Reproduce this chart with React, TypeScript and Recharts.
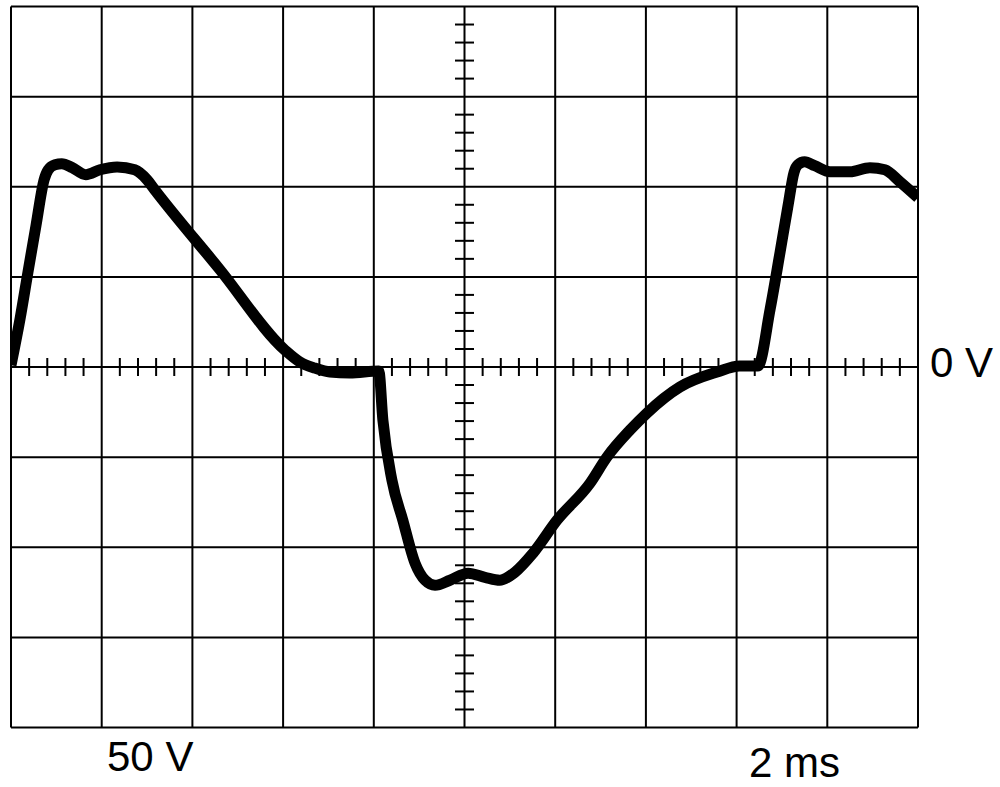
import React from "react";
import { LineChart, Line, XAxis, YAxis, ReferenceLine } from "recharts";

// Waveform samples: time in ms (2 ms / div), voltage in V (50 V / div)
const timeMs = [
  0, 0.2, 0.375, 0.55, 0.73, 0.82, 0.97, 1.12, 1.35, 1.65, 1.96, 2.34, 2.73, 3.0, 3.17, 4.61, 6.04,
  6.37, 6.7, 7.03, 7.47, 8.11, 8.2, 8.4, 8.64, 8.91, 9.13, 9.35, 9.68, 10.08, 10.45, 10.78, 11.11,
  11.51, 12.04, 12.77, 13.14, 13.65, 14.02, 14.75, 15.57, 16.07, 16.47, 16.74, 16.96, 17.13, 17.27,
  17.35, 17.5, 17.72, 18.06, 18.5, 18.94, 19.27, 19.6, 20.0,
];
const voltsV = [
  1, 26.8, 52.8, 78.3, 103.9, 109.4, 112.2, 112.8, 110.6, 106.7, 109.4, 111, 109.4, 103.9, 98.3, 53.9,
  9.4, 2.8, -0.6, -2.8, -3.3, -2.2, -29.4, -62.8, -85, -108.9, -118.3, -121.1, -118.3, -114.4, -116.7,
  -118.3, -113.9, -103.3, -85, -64.4, -50, -35, -25.6, -11.1, -2.8, 0.6, 0.6, 32.2, 63.9, 88.9, 108.3,
  112.2, 113.9, 111.7, 108.3, 108.3, 110.6, 109.4, 102.8, 93.9,
];

const xGrid = [0, 2, 4, 6, 8, 10, 12, 14, 16, 18, 20];
const yGrid = [-200, -150, -100, -50, 0, 50, 100, 150, 200];
const xMinorTicks = [
  0.4, 0.8, 1.2, 1.6, 2.4, 2.8, 3.2, 3.6, 4.4, 4.8, 5.2, 5.6, 6.4, 6.8, 7.2, 7.6, 8.4, 8.8, 9.2, 9.6,
  10.4, 10.8, 11.2, 11.6, 12.4, 12.8, 13.2, 13.6, 14.4, 14.8, 15.2, 15.6, 16.4, 16.8, 17.2, 17.6,
  18.4, 18.8, 19.2, 19.6,
];
const yMinorTicks = [
  -190, -180, -170, -160, -140, -130, -120, -110, -90, -80, -70, -60, -40, -30, -20, -10,
  10, 20, 30, 40, 60, 70, 80, 90, 110, 120, 130, 140, 160, 170, 180, 190,
];
const labels = { zero: "0 V", volts: "50 V", time: "2 ms" };

const data = timeMs.map((t, i) => ({ t, v: voltsV[i] }));

const W = 1000;
const H = 787;
const M = { top: 6.5, left: 11, right: 82, bottom: 59.5 };
const TICK_V = 5; // half length of minor tick on time axis, in volts
const TICK_T = 0.21; // half length of minor tick on voltage axis, in ms

export default function App() {
  return (
    <div style={{ position: "absolute", left: 0, top: 0, width: W, height: H, background: "#fff" }}>
      <LineChart width={W} height={H} data={data} margin={M}>
        <XAxis dataKey="t" type="number" domain={[0, 20]} hide allowDataOverflow />
        <YAxis type="number" domain={[-200, 200]} hide allowDataOverflow />
        {xGrid.map((x) => (
          <ReferenceLine key={"gx" + x} x={x} stroke="#000" strokeWidth={2} />
        ))}
        {yGrid.map((y) => (
          <ReferenceLine key={"gy" + y} y={y} stroke="#000" strokeWidth={2} />
        ))}
        {xMinorTicks.map((x) => (
          <ReferenceLine
            key={"tx" + x}
            segment={[
              { x, y: -TICK_V },
              { x, y: TICK_V },
            ]}
            stroke="#000"
            strokeWidth={2}
          />
        ))}
        {yMinorTicks.map((y) => (
          <ReferenceLine
            key={"ty" + y}
            segment={[
              { x: 10 - TICK_T, y },
              { x: 10 + TICK_T, y },
            ]}
            stroke="#000"
            strokeWidth={2}
          />
        ))}
        <Line
          dataKey="v"
          type="monotone"
          stroke="#000"
          strokeWidth={11}
          dot={false}
          activeDot={false}
          isAnimationActive={false}
        />
      </LineChart>
      <svg
        width={W}
        height={H}
        style={{ position: "absolute", left: 0, top: 0, pointerEvents: "none" }}
        fontFamily="Liberation Sans, Arial, sans-serif"
        fontSize={42}
        fill="#000"
      >
        <text x={930} y={377}>{labels.zero}</text>
        <text x={107} y={771}>{labels.volts}</text>
        <text x={749} y={777}>{labels.time}</text>
      </svg>
    </div>
  );
}
